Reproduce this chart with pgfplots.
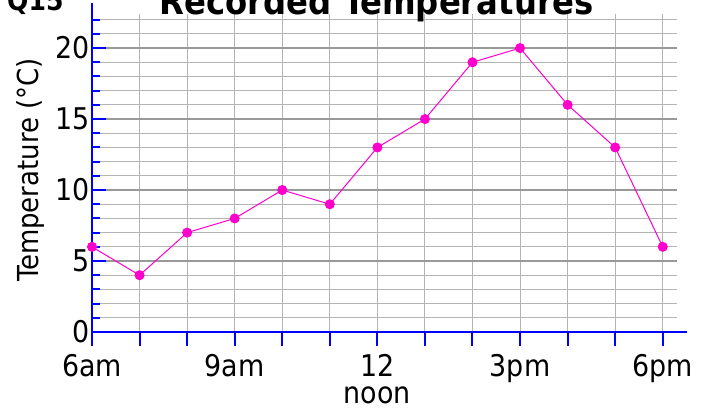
\documentclass[border=0pt]{standalone}
\usepackage{fontspec}
\setmainfont{DejaVu Sans Condensed}
\usepackage{pgfplots}
\pgfplotsset{compat=1.18}
\definecolor{mag}{HTML}{FF00CC}
\definecolor{axblue}{HTML}{0000FF}
\definecolor{gmaj}{HTML}{999999}
\definecolor{gmin}{HTML}{B4B4B4}
\begin{document}
\begin{tikzpicture}[x=1bp,y=1bp]
\path[use as bounding box] (0,0) rectangle (711,412);
\clip (0,0) rectangle (711,412);
\begin{axis}[
  at={(92bp,80bp)}, anchor=south west,
  scale only axis, width=585bp, height=318bp,
  xmin=6, xmax=18.3, ymin=0, ymax=22.4,
  axis lines=left,
  axis line style={-, axblue, line width=2.5bp},
  x axis line style={shorten >=-10bp},
  y axis line style={shorten >=-11bp},
  xtick={6,...,18},
  xticklabels={6am,,,9am,,,12\\noon,,,3pm,,,6pm},
  ytick={0,5,...,20},
  minor ytick={1,...,22},
  xtick align=outside, ytick align=inside,
  major tick length=14bp, minor tick length=8bp,
  every tick/.style={axblue, line width=2bp},
  xmajorgrids, ymajorgrids, yminorgrids,
  x grid style={gmin, line width=1bp},
  y grid style={gmaj, line width=1.3bp},
  minor y grid style={gmin, line width=1bp},
  ticklabel style={font=\fontsize{30}{27}\selectfont},
  x tick label style={align=center, yshift=-5bp},
  y tick label style={xshift=1bp},
  /pgf/number format/assume math mode=true,
  clip=false,
]
\addplot[mag, line width=1bp, mark=*, mark size=4.5bp, mark options={fill=mag}]
  coordinates {(6,6) (7,4) (8,7) (9,8) (10,10) (11,9) (12,13) (13,15) (14,19) (15,20) (16,16) (17,13) (18,6)};
\end{axis}
\node[font=\bfseries\fontsize{36}{38}\selectfont, anchor=base] at (377,397) {Recorded Temperatures};
\node[font=\bfseries\fontsize{28}{30}\selectfont, anchor=base west, inner sep=0] at (7,401) {Q15};
\node[font=\fontsize{29}{30}\selectfont, rotate=90] at (31,242) {Temperature (°C)};
\end{tikzpicture}
\end{document}
